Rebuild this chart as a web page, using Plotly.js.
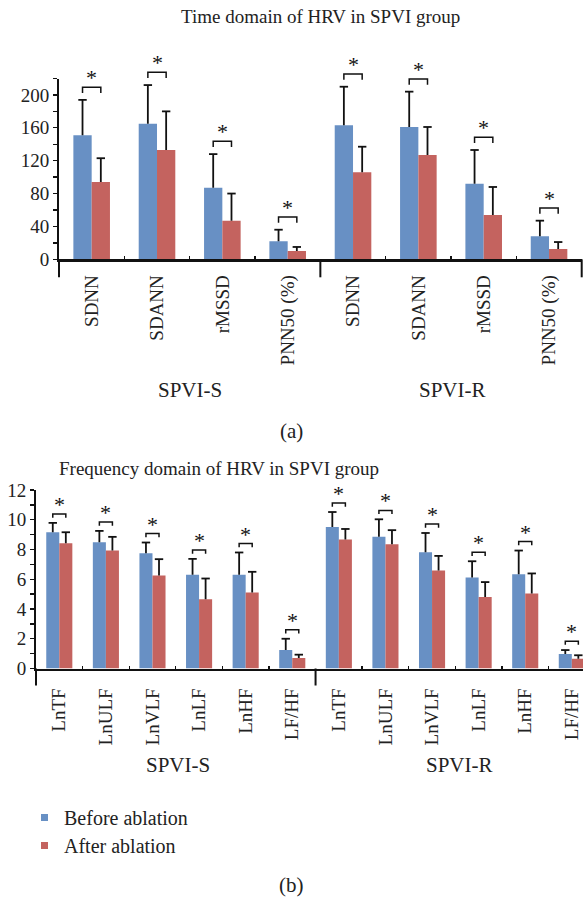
<!DOCTYPE html>
<html><head><meta charset="utf-8">
<script src="https://cdn.plot.ly/plotly-3.0.1.min.js"></script>
<style>html,body{margin:0;padding:0;background:#fff}</style>
</head><body><div id="chart" style="width:583px;height:900px"></div>
<script>
// ---------- data ----------
const seriesNames = ['Before ablation', 'After ablation'];
const seriesColors = ['#6890C4', '#C4635F'];
const groupNames = ['SPVI-S', 'SPVI-R'];

const timeTitle = 'Time domain of HRV in SPVI group';
const timeLabels = ['SDNN', 'SDANN', 'rMSSD', 'PNN50 (%)', 'SDNN', 'SDANN', 'rMSSD', 'PNN50 (%)'];
const timeBefore = [151, 165, 87, 22, 163, 161, 92, 28];
const timeBeforeSD = [43, 47, 41, 14, 47, 43, 41, 19];
const timeAfter = [94, 133, 47, 10, 106, 127, 54, 12.5];
const timeAfterSD = [29, 47, 33, 5, 31, 34, 34, 8.5];
const timeSig = [true, true, true, true, true, true, true, true];

const freqTitle = 'Frequency domain of HRV in SPVI group';
const freqLabels = ['LnTF', 'LnULF', 'LnVLF', 'LnLF', 'LnHF', 'LF/HF', 'LnTF', 'LnULF', 'LnVLF', 'LnLF', 'LnHF', 'LF/HF'];
const freqBefore = [9.16, 8.49, 7.75, 6.30, 6.30, 1.24, 9.52, 8.85, 7.82, 6.12, 6.34, 0.97];
const freqBeforeSD = [0.63, 0.76, 0.72, 1.07, 1.50, 0.76, 1.00, 1.18, 1.29, 1.09, 1.59, 0.27];
const freqAfter = [8.42, 7.93, 6.25, 4.66, 5.11, 0.70, 8.67, 8.36, 6.59, 4.80, 5.05, 0.66];
const freqAfterSD = [0.74, 0.92, 1.10, 1.39, 1.39, 0.23, 0.71, 0.94, 0.98, 1.01, 1.34, 0.23];
const freqSig = [true, true, true, true, true, true, true, true, true, true, true, true];

// ---------- layout helpers ----------
const W = 583, H = 900;
const FONT = '"Liberation Serif", "Times New Roman", serif';
const px2x = p => p / W;
const px2y = p => 1 - p / H;
const BARGAP = 0.44;
const half = (1 - BARGAP) / 4; // offset of each bar centre from category centre

const traces = [], shapes = [], annotations = [];
const layout = {width: W, height: H, margin: {l: 0, r: 0, t: 0, b: 0}, paper_bgcolor: '#fff', plot_bgcolor: '#fff',
  barmode: 'group', bargap: BARGAP, bargroupgap: 0, showlegend: false,
  font: {family: FONT, size: 19, color: '#222'}};

function panel(cfg) {
  const n = cfg.labels.length;
  const idx = cfg.labels.map((_, i) => i);
  const xa = 'x' + cfg.sfx, ya = 'y' + cfg.sfx;
  const xname = 'xaxis' + cfg.sfx, yname = 'yaxis' + cfg.sfx;
  const series = [[cfg.before, cfg.beforeSD], [cfg.after, cfg.afterSD]];
  series.forEach((s, k) => {
    traces.push({type: 'bar', x: idx, y: s[0], name: seriesNames[k], xaxis: xa, yaxis: ya,
      marker: {color: seriesColors[k], line: {width: 0}}, showlegend: false, hoverinfo: 'skip'});
    const off = k === 0 ? -half : half;
    const lx = [], ly = [], cx = [], cy = [];
    idx.forEach(i => {
      lx.push(i + off, i + off, null); ly.push(s[0][i], s[0][i] + s[1][i], null);
      cx.push(i + off); cy.push(s[0][i] + s[1][i]);
    });
    traces.push({type: 'scatter', mode: 'lines', x: lx, y: ly, xaxis: xa, yaxis: ya,
      line: {color: '#111', width: 1.8}, showlegend: false, hoverinfo: 'skip', cliponaxis: false});
    traces.push({type: 'scatter', mode: 'markers', x: cx, y: cy, xaxis: xa, yaxis: ya, cliponaxis: false,
      marker: {symbol: 'line-ew', size: 6, line: {width: 1.8, color: '#111'}}, showlegend: false, hoverinfo: 'skip'});
  });
  // significance brackets
  const yr = cfg.yrange[1];
  idx.forEach(i => {
    if (!cfg.sig[i]) return;
    const top = Math.max(cfg.before[i] + cfg.beforeSD[i], cfg.after[i] + cfg.afterSD[i]) + cfg.brOff;
    const bot = top - cfg.brLeg;
    shapes.push({type: 'path', xref: xa, yref: ya + ' domain',
      path: `M${i - half},${bot / yr} L${i - half},${top / yr} L${i + half},${top / yr} L${i + half},${bot / yr}`,
      line: {color: '#111', width: 1.5}});
    annotations.push({xref: xa, yref: ya + ' domain', x: i, y: top / yr, text: '*', showarrow: false,
      yanchor: 'bottom', yshift: -5, font: {family: FONT, size: 22, color: '#111'}});
  });
  // category boundary ticks, group divider and axis extensions
  const r0 = cfg.xrange[0], r1 = cfg.xrange[1];
  const gsize = n / 2;
  const minorVals = [];
  for (let b = 1; b < n; b++) if (b !== gsize) minorVals.push(b - 0.5);
  const axisPx = cfg.axisPx;
  const ext = [0, (gsize - 0.5 - r0) / (r1 - r0)];
  if (cfg.showRight) ext.push(1);
  ext.forEach(xd => shapes.push({type: 'line', xref: xa + ' domain', yref: 'paper', x0: xd, x1: xd,
    y0: px2y(axisPx), y1: px2y(axisPx + cfg.extPx), line: {color: '#111', width: 2}}));
  // group labels
  groupNames.forEach((g, k) => annotations.push({xref: 'paper', yref: 'paper', x: px2x(cfg.groupX[k]), y: px2y(cfg.groupY),
    text: g, showarrow: false, xanchor: 'center', yanchor: 'middle', font: {family: FONT, size: 21, color: '#222'}}));
  // title and panel letter
  annotations.push({xref: 'paper', yref: 'paper', x: px2x(cfg.titleX), y: px2y(cfg.titleY), text: cfg.title,
    showarrow: false, xanchor: 'center', yanchor: 'middle', font: {family: FONT, size: 19, color: '#222'}});
  annotations.push({xref: 'paper', yref: 'paper', x: px2x(291), y: px2y(cfg.letterY), text: cfg.letter,
    showarrow: false, xanchor: 'center', yanchor: 'middle', font: {family: FONT, size: 21, color: '#222'}});

  layout[xname] = {domain: cfg.xdom, range: cfg.xrange, anchor: ya, tickmode: 'array', tickvals: idx,
    ticktext: cfg.labels, tickangle: -90, ticks: '', showline: true, linecolor: '#111', linewidth: 2.3,
    showgrid: false, zeroline: false, ticklabelstandoff: cfg.standoff,
    tickfont: {family: FONT, size: 19, color: '#222'},
    minor: {tickmode: 'array', tickvals: minorVals, ticks: 'inside', ticklen: 3, tickwidth: 1.3, tickcolor: '#111'}};
  layout[yname] = {domain: cfg.ydom, range: cfg.yrange, anchor: xa, tickmode: 'array', tickvals: cfg.ytickvals,
    ticks: 'outside', ticklen: 4, tickwidth: 1.3, tickcolor: '#111', showline: true, linecolor: '#111', linewidth: 2,
    showgrid: false, zeroline: false, tickfont: {family: FONT, size: 19, color: '#222'},
    minor: {dtick: cfg.minorD, tick0: 0, ticks: 'outside', ticklen: 4, tickwidth: 1.3, tickcolor: '#111'}};
}

panel({sfx: '', labels: timeLabels, before: timeBefore, beforeSD: timeBeforeSD, after: timeAfter, afterSD: timeAfterSD,
  sig: timeSig, yrange: [0, 220], ytickvals: [0, 40, 80, 120, 160, 200], minorD: 20, brOff: 15.5, brLeg: 7,
  xrange: [-0.5, 7.5], xdom: [px2x(59), px2x(581.7)], ydom: [px2y(259.3), px2y(78.5)], axisPx: 259.3, extPx: 18,
  showRight: true, standoff: 6, groupX: [190, 452], groupY: 390, title: timeTitle, titleX: 320, titleY: 17,
  letter: '(a)', letterY: 431});

panel({sfx: '2', labels: freqLabels, before: freqBefore, beforeSD: freqBeforeSD, after: freqAfter, afterSD: freqAfterSD,
  sig: freqSig, yrange: [0, 12], ytickvals: [0, 2, 4, 6, 8, 10, 12], minorD: 1, brOff: 0.6, brLeg: 0.25,
  xrange: [-0.5, 11.24], xdom: [px2x(36), 1], ydom: [px2y(668.5), px2y(490)], axisPx: 668.5, extPx: 17,
  showRight: false, standoff: 10, groupX: [178, 459], groupY: 765, title: freqTitle, titleX: 219, titleY: 468,
  letter: '(b)', letterY: 885});

// legend
const legY = [817.5, 845.5];
seriesNames.forEach((s, k) => {
  shapes.push({type: 'rect', xref: 'paper', yref: 'paper', x0: px2x(41), x1: px2x(48), y0: px2y(legY[k] - 3.5), y1: px2y(legY[k] + 3.5),
    fillcolor: seriesColors[k], line: {width: 0}});
  annotations.push({xref: 'paper', yref: 'paper', x: px2x(62), y: px2y(legY[k]), text: s, showarrow: false,
    xanchor: 'left', yanchor: 'middle', font: {family: FONT, size: 20, color: '#222'}});
});

layout.shapes = shapes;
layout.annotations = annotations;
Plotly.newPlot('chart', traces, layout, {staticPlot: true});
</script></body></html>
